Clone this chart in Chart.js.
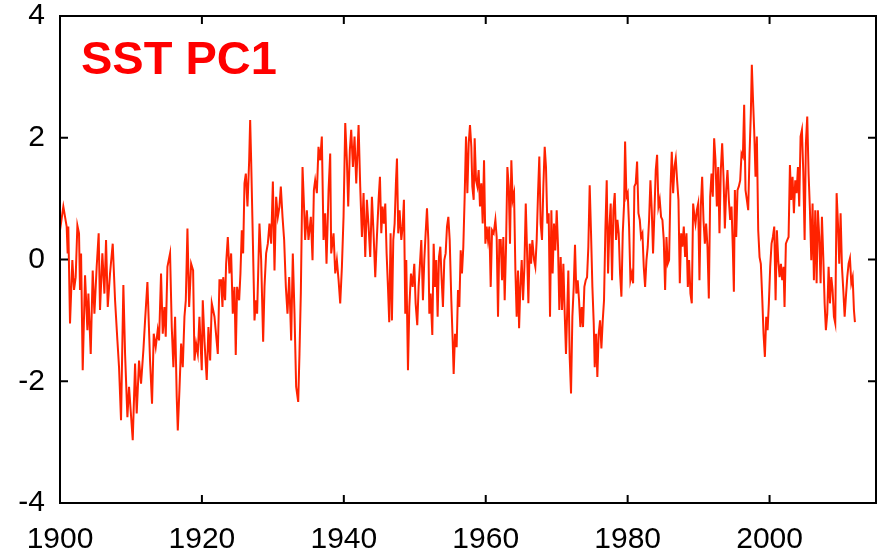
<!DOCTYPE html>
<html>
<head>
<meta charset="utf-8">
<script src="https://cdn.jsdelivr.net/npm/chart.js@4.4.0/dist/chart.umd.min.js"></script>
<style>
  html, body { margin: 0; padding: 0; background: #fff; }
  #wrap { position: relative; width: 881px; height: 553px; }
  #series-label {
    position: absolute; left: 81px; top: 34px;
    font: bold 47px "Liberation Sans", Arial, sans-serif;
    line-height: 1; color: #ff0000; white-space: nowrap;
  }
</style>
</head>
<body>
<div id="wrap">
  <canvas id="pc1-chart" width="881" height="553"></canvas>
  <div id="series-label">SST PC1</div>
</div>
<script>
// tick labels
const xTickValues = [1900, 1920, 1940, 1960, 1980, 2000];
const yTickValues = [-4, -2, 0, 2, 4];

// time (decimal year) of each sample
const years = [
  1900.0, 1900.47, 1900.94, 1901.08, 1901.17, 1901.41, 1901.74, 1901.98, 1902.21, 1902.45, 1902.68, 1902.82, 1902.97,
  1903.2, 1903.53, 1903.86, 1904.0, 1904.33, 1904.61, 1904.85, 1905.17, 1905.45, 1905.64, 1905.97, 1906.26, 1906.49,
  1906.73, 1907.05, 1907.43, 1907.76, 1908.09, 1908.32, 1908.6, 1908.93, 1909.17, 1909.5, 1909.73, 1910.25, 1910.58,
  1910.81, 1911.14, 1911.42, 1911.75, 1911.99, 1912.32, 1912.69, 1912.97, 1913.21, 1913.49, 1913.77, 1913.96, 1914.24,
  1914.48, 1914.71, 1914.9, 1915.14, 1915.51, 1915.75, 1915.98, 1916.22, 1916.45, 1916.6, 1916.83, 1917.07, 1917.3,
  1917.54, 1917.73, 1917.96, 1918.2, 1918.48, 1918.76, 1918.95, 1919.18, 1919.42, 1919.65, 1919.98, 1920.12, 1920.36,
  1920.68, 1920.92, 1921.16, 1921.39, 1921.77, 1922.24, 1922.47,
  1922.7, 1922.9, 1923.0, 1923.27, 1923.41, 1923.65, 1923.88, 1924.12, 1924.35, 1924.59, 1924.77, 1924.96, 1925.25,
  1925.43, 1925.62, 1925.81, 1926.0, 1926.19, 1926.42, 1926.66, 1926.8, 1926.94, 1927.13, 1927.41, 1927.6, 1927.78,
  1928.11, 1928.35, 1928.63, 1928.82, 1929.05, 1929.29, 1929.52, 1929.76, 1930.0, 1930.23, 1930.46, 1930.7, 1930.93,
  1931.12, 1931.36, 1931.59, 1931.83, 1932.06, 1932.3, 1932.58, 1932.81, 1933.05, 1933.28, 1933.57, 1933.75, 1933.94,
  1934.18, 1934.41, 1934.55, 1934.79, 1935.02, 1935.35, 1935.59, 1935.78, 1935.96, 1936.2, 1936.43, 1936.67, 1936.9,
  1937.14, 1937.37, 1937.56, 1937.85, 1938.08, 1938.22, 1938.55, 1938.79, 1939.02, 1939.26, 1939.49, 1939.73, 1939.96,
  1940.2, 1940.43, 1940.62, 1940.85, 1941.04, 1941.28, 1941.51, 1941.75, 1942.08, 1942.31, 1942.55, 1942.78, 1943.02,
  1943.25, 1943.49, 1943.72, 1943.96, 1944.19, 1944.43, 1944.66,
  1944.9, 1945.09, 1945.28, 1945.46, 1945.65, 1945.84, 1946.03, 1946.22, 1946.4, 1946.59, 1946.78, 1946.97, 1947.16,
  1947.34, 1947.49, 1947.67, 1947.86, 1948.1, 1948.29, 1948.47, 1948.66, 1948.8, 1949.04, 1949.23, 1949.46, 1949.7,
  1949.93, 1950.12, 1950.35, 1950.54, 1950.73, 1950.92, 1951.15, 1951.34, 1951.53, 1951.72, 1951.91, 1952.05, 1952.23,
  1952.47, 1952.66, 1952.85, 1953.03, 1953.22, 1953.41, 1953.6, 1953.79, 1953.97, 1954.16, 1954.35, 1954.54, 1954.73,
  1954.92, 1955.15, 1955.34, 1955.48, 1955.67, 1955.9, 1956.09, 1956.28, 1956.47, 1956.65, 1956.84, 1957.03, 1957.22,
  1957.41, 1957.6, 1957.78, 1957.97, 1958.11, 1958.3, 1958.44, 1958.63, 1958.82, 1959.0, 1959.19, 1959.38, 1959.57,
  1959.76, 1959.95, 1960.13, 1960.32, 1960.51, 1960.7, 1960.89, 1961.12, 1961.36, 1961.54, 1961.73, 1961.92, 1962.11,
  1962.3, 1962.48, 1962.67, 1962.86, 1963.05, 1963.24, 1963.42, 1963.61, 1963.8, 1963.99, 1964.18, 1964.36, 1964.55,
  1964.7, 1964.88, 1965.07, 1965.26, 1965.45, 1965.64, 1965.82, 1966.01, 1966.2, 1966.39, 1966.57, 1966.81,
  1966.99, 1967.18, 1967.37, 1967.55, 1967.74, 1967.93, 1968.12, 1968.31, 1968.49, 1968.68, 1968.87, 1969.06, 1969.25,
  1969.43, 1969.62, 1969.81, 1970.0, 1970.19, 1970.37, 1970.56, 1970.75, 1970.94, 1971.13, 1971.31, 1971.5, 1971.64,
  1971.83, 1972.02, 1972.21, 1972.4, 1972.58, 1972.77, 1972.96, 1973.15, 1973.34, 1973.52, 1973.71, 1973.9, 1974.09,
  1974.28, 1974.46, 1974.65, 1974.84, 1975.03, 1975.22, 1975.36, 1975.55, 1975.73, 1975.92, 1976.11, 1976.3, 1976.49,
  1976.67, 1976.86, 1977.05, 1977.24, 1977.43, 1977.61, 1977.8, 1977.99, 1978.18, 1978.37, 1978.56, 1978.74, 1978.93,
  1979.12, 1979.31, 1979.5, 1979.64, 1979.83, 1980.01, 1980.2, 1980.39, 1980.58, 1980.77, 1980.95, 1981.14, 1981.33,
  1981.52, 1981.71, 1981.89, 1982.08, 1982.27, 1982.46, 1982.65, 1982.83, 1983.02, 1983.21, 1983.4, 1983.58, 1983.77,
  1983.96, 1984.15, 1984.34, 1984.52, 1984.71, 1984.9, 1985.09, 1985.28, 1985.47, 1985.65, 1985.84, 1986.03, 1986.22,
  1986.41, 1986.6, 1986.78, 1986.97, 1987.16, 1987.35, 1987.54, 1987.72, 1987.91, 1988.1, 1988.29, 1988.48, 1988.66,
  1988.85, 1989.04, 1989.23, 1989.42,
  1989.56, 1989.75, 1989.94, 1990.12, 1990.31, 1990.5, 1990.69, 1990.88, 1991.06, 1991.25, 1991.44, 1991.63, 1991.82,
  1992.0, 1992.19, 1992.38, 1992.57, 1992.76, 1992.94, 1993.13, 1993.32, 1993.51, 1993.7, 1993.89, 1994.07, 1994.26,
  1994.45, 1994.64, 1994.83, 1994.97, 1995.11, 1995.3, 1995.48, 1995.67, 1995.86, 1996.05, 1996.24, 1996.42, 1996.61,
  1996.8, 1996.99, 1997.18, 1997.36, 1997.5, 1997.65, 1997.83, 1998.02, 1998.21, 1998.4, 1998.59, 1998.77, 1998.96,
  1999.15, 1999.34, 1999.53, 1999.72, 1999.9, 2000.09, 2000.28, 2000.47, 2000.66, 2000.85, 2001.03, 2001.22, 2001.41,
  2001.6, 2001.78, 2001.97, 2002.11, 2002.3, 2002.49, 2002.68, 2002.87, 2003.05, 2003.24, 2003.43, 2003.62, 2003.81,
  2004.0, 2004.18, 2004.37, 2004.56, 2004.75, 2004.94, 2005.12, 2005.31, 2005.5, 2005.69, 2005.88, 2006.06, 2006.25,
  2006.44, 2006.63, 2006.81, 2007.0, 2007.19, 2007.38, 2007.57, 2007.76, 2007.94, 2008.13, 2008.32, 2008.51, 2008.7,
  2008.88, 2009.07, 2009.26, 2009.45, 2009.64, 2009.82, 2010.01, 2010.2, 2010.39, 2010.58, 2010.76, 2010.95, 2011.14,
  2011.33, 2011.52, 2011.71, 2011.89, 2012.03
];

// SST PC1 amplitude at each of those times
const pc1 = [
  0.48, 0.87, 0.54, 0.10, 0.54, -1.05, -0.01, -0.50, -0.29, 0.56, 0.43, -0.50, 0.10,
  -1.82, -0.26, -1.16, -0.56, -1.55, -0.18, -0.89, -0.12, 0.43, -0.83, 0.10, -0.56, 0.32,
  -0.78, -0.23, 0.26, -0.67, -1.33, -1.77, -2.64, -0.42, -1.55, -2.59, -2.09, -2.97, -1.71,
  -2.53, -1.66, -2.04, -1.49, -1.00, -0.37, -1.66, -2.37, -1.22, -1.44, -1.16, -1.33, -0.23,
  -1.22, -0.78, -1.27, -0.12, 0.10, -1.11, -1.77, -0.94, -2.26, -2.81, -2.15, -1.38, -1.77,
  -0.94, -0.67, 0.51, -0.78, -0.07, -0.18, -1.66, -1.38, -1.55, -0.94, -1.82, -0.67, -1.33,
  -1.98, -1.11, -1.66, -0.72, -0.94, -1.55, -0.34,
  -0.34, -0.78, -0.29, -0.67, -0.07, 0.37, -0.23, 0.10, -0.89, -0.45, -1.57, -0.45, -0.67,
  -0.23, 0.48, 0.10, 1.25, 1.41, 0.87, 1.63, 2.29, 1.63, 0.59, -1.00, -0.67, -0.89,
  0.59, -0.01, -1.35, -0.45, 0.10, 0.26, 0.59, 0.26, 1.28, -0.18, 1.03, 0.70, 0.87,
  1.20, 0.70, 0.32, -0.45, -0.89, -0.29, -1.33, 0.10, -0.89, -2.09, -2.34, -1.55, -0.56,
  1.52, 0.81, 0.32, 0.81, 0.32, 0.70, -0.01, 1.14, 1.30, 1.09, 1.85, 1.63, 2.02,
  0.32, 0.76, -0.07, 1.14, 1.74, 0.10, 0.43, -0.23, -0.01, -0.34, -0.72, -0.12, 0.70,
  2.24, 1.63, 0.87, 1.80, 2.13, 1.52, 2.02, 1.25, 2.21, 1.20, 0.37, 1.09, 0.04,
  0.98, 0.54, 0.04, 1.03, 0.43, -0.29, 0.37,
  0.98, 1.36, 0.43, 0.87, 0.59, 0.92, 0.10, -0.45, -1.03, 0.43, -1.00, 0.32, 0.59,
  1.25, 1.66, 0.43, 0.81, 0.32, 0.54, 0.98, -0.89, -0.01, -1.82, -0.78, -0.23, -0.45,
  -0.07, -0.72, -1.08, -0.45, -0.07, 0.32, -0.67, -0.01, 0.43, 0.84, 0.32, -0.89, -0.56,
  -1.24, 0.26, -0.45, -0.01, -0.94, 0.04, 0.21, -0.34, -0.78, -0.01, 0.10, 0.54, 0.70,
  0.32, -0.67, -1.33, -1.88, -1.22, -1.44, -0.50, -0.78, 0.15, -0.23, 0.21, 1.03, 2.02,
  1.09, 1.91, 2.21, 1.85, 1.20, 0.98, 1.99, 1.30, 1.20, 1.47, 0.87, 1.25, 0.59,
  1.63, 0.26, 0.54, 0.32, 0.54, -0.45, 0.48, 0.43, 0.65, 0.37, -0.94, 0.32, 0.32,
  -0.34, 0.37, -0.67, 0.21, 1.52, 1.20, 0.26, 1.63, 0.98, 1.09, -0.18, -0.94, -0.18,
  -1.13, -0.45, -0.01, -0.67, -0.12, 0.92, 0.15, -0.72, 0.26, -0.07, 0.32, -0.01,
  -0.12, 0.32, 1.09, 1.69, 0.59, 0.32, 1.20, 1.85, 1.52, 0.59, 0.76, -0.94, 0.81,
  -0.23, 0.59, 0.15, 0.81, 0.21, -0.83, 0.04, -0.83, -0.07, -0.89, -1.55, -0.78, -0.18,
  -1.60, -2.20, -0.94, -0.45, 0.24, -0.56, -0.34, -0.67, -1.11, -0.78, -1.11, -0.45, -0.34,
  -0.29, 0.21, 1.22, 0.43, -0.45, -1.05, -1.77, -1.22, -1.93, -1.22, -1.00, -1.46, -1.00,
  -0.67, 0.48, 1.30, -0.23, 0.54, 0.92, -0.34, 0.81, 1.09, 0.32, 0.65, 0.43, -0.23,
  -0.61, 0.43, 0.92, 1.94, 1.03, 1.09, 0.54, -0.34, -0.23, -0.39, 1.20, 1.25, 1.61,
  0.76, 0.65, 0.37, 0.43, -0.12, -0.45, -0.01, 0.21, 0.65, 1.30, 0.81, 0.10, 0.76,
  1.47, 1.72, 0.87, 0.98, 0.70, 0.65, 0.32, -0.50, 0.37, -0.07, -0.01, 1.14, 1.77,
  1.09, 1.52, 1.66, 1.30, 0.98, -0.39, 0.43, 0.21, 0.54, 0.04, 0.43, -0.45, -0.01,
  -0.56, -0.72, 0.92, 0.70,
  0.59, 0.81, 0.92, -0.34, 0.87, 1.36, 0.64, 0.26, 0.59, 0.21, -0.64, 1.03, 1.41,
  1.03, 1.99, 1.63, 0.87, 1.52, 0.43, 1.47, 1.91, 1.36, 0.51, 1.14, 1.47, 0.98,
  0.65, 0.87, 0.15, -0.53, 1.14, 0.37, 1.14, 1.20, 1.30, 1.74, 1.69, 2.54, 1.14,
  0.98, 0.81, 1.74, 2.40, 3.20, 2.68, 2.13, 1.36, 2.02, 0.48, 0.04, -0.07, -0.61,
  -1.22, -1.60, -0.94, -1.16, -0.72, -0.12, 0.26, 0.37, 0.54, -0.67, 0.48, -0.01, -0.29,
  -0.07, -0.34, -0.12, -0.78, 0.26, 0.32, 0.37, 1.55, 0.98, 1.36, 0.76, 1.30, 1.09,
  1.52, 0.87, 2.02, 2.13, 1.44, 0.32, 1.91, 2.35, 1.41, 0.81, -0.01, 0.92, -0.34,
  0.81, -0.39, 0.81, 0.37, -0.39, 0.70, 0.04, -0.72, -1.16, -0.89, -0.12, -0.72, -0.29,
  -0.50, -0.94, -1.05, 1.09, 0.59, -0.07, 0.76, -0.12, -0.50, -0.94, -0.61, -0.29, -0.07,
  0.02, -0.39, -0.29, -0.83, -1.03
];

const points = years.map((yr, i) => ({ x: yr, y: pc1[i] }));

// box round the plot with inward tick marks on all four sides
const framePlugin = {
    id: 'frame',
    afterDatasetsDraw(chart) {
        const { ctx, chartArea: a, scales: { x, y } } = chart;
        const len = 8;
        ctx.save();
        ctx.strokeStyle = '#000';
        ctx.lineWidth = 2;
        ctx.beginPath();
        x.ticks.forEach(t => {
            const px = x.getPixelForValue(t.value);
            ctx.moveTo(px, a.bottom); ctx.lineTo(px, a.bottom - len);
            ctx.moveTo(px, a.top); ctx.lineTo(px, a.top + len);
        });
        y.ticks.forEach(t => {
            const py = y.getPixelForValue(t.value);
            ctx.moveTo(a.left, py); ctx.lineTo(a.left + len, py);
            ctx.moveTo(a.right, py); ctx.lineTo(a.right - len, py);
        });
        ctx.stroke();
        ctx.strokeRect(a.left, a.top, a.right - a.left, a.bottom - a.top);
        ctx.restore();
    }
};

const tickFont = { family: '"Liberation Sans", Arial, sans-serif', size: 30 };

new Chart(document.getElementById('pc1-chart'), {
    type: 'line',
    data: {
        datasets: [{
            label: 'SST PC1',
            data: points,
            borderColor: 'rgb(255, 34, 0)',
            borderWidth: 2,
            pointRadius: 0,
            tension: 0,
            fill: false
        }]
    },
    options: {
        responsive: false,
        animation: false,
        layout: { padding: { top: 16, right: 5, left: 0, bottom: 0 } },
        plugins: { legend: { display: false }, tooltip: { enabled: false } },
        scales: {
            x: {
                type: 'linear',
                min: 1900,
                max: 2015,
                afterBuildTicks: (scale) => { scale.ticks = xTickValues.map(value => ({ value })); },
                afterFit: (scale) => { scale.height = 50; scale.paddingLeft = 0; scale.paddingRight = 0; },
                grid: { display: false, drawTicks: false },
                border: { display: false },
                ticks: {
                    font: tickFont, color: '#000', padding: 19, maxRotation: 0, autoSkip: false,
                    callback: (value) => String(value)
                }
            },
            y: {
                type: 'linear',
                min: -4,
                max: 4,
                afterBuildTicks: (scale) => { scale.ticks = yTickValues.map(value => ({ value })); },
                afterFit: (scale) => { scale.width = 60; scale.paddingTop = 0; scale.paddingBottom = 0; },
                grid: { display: false, drawTicks: false },
                border: { display: false },
                ticks: { font: tickFont, color: '#000', padding: 15, callback: (value) => String(value) }
            }
        }
    },
    plugins: [framePlugin]
});
</script>
</body>
</html>
